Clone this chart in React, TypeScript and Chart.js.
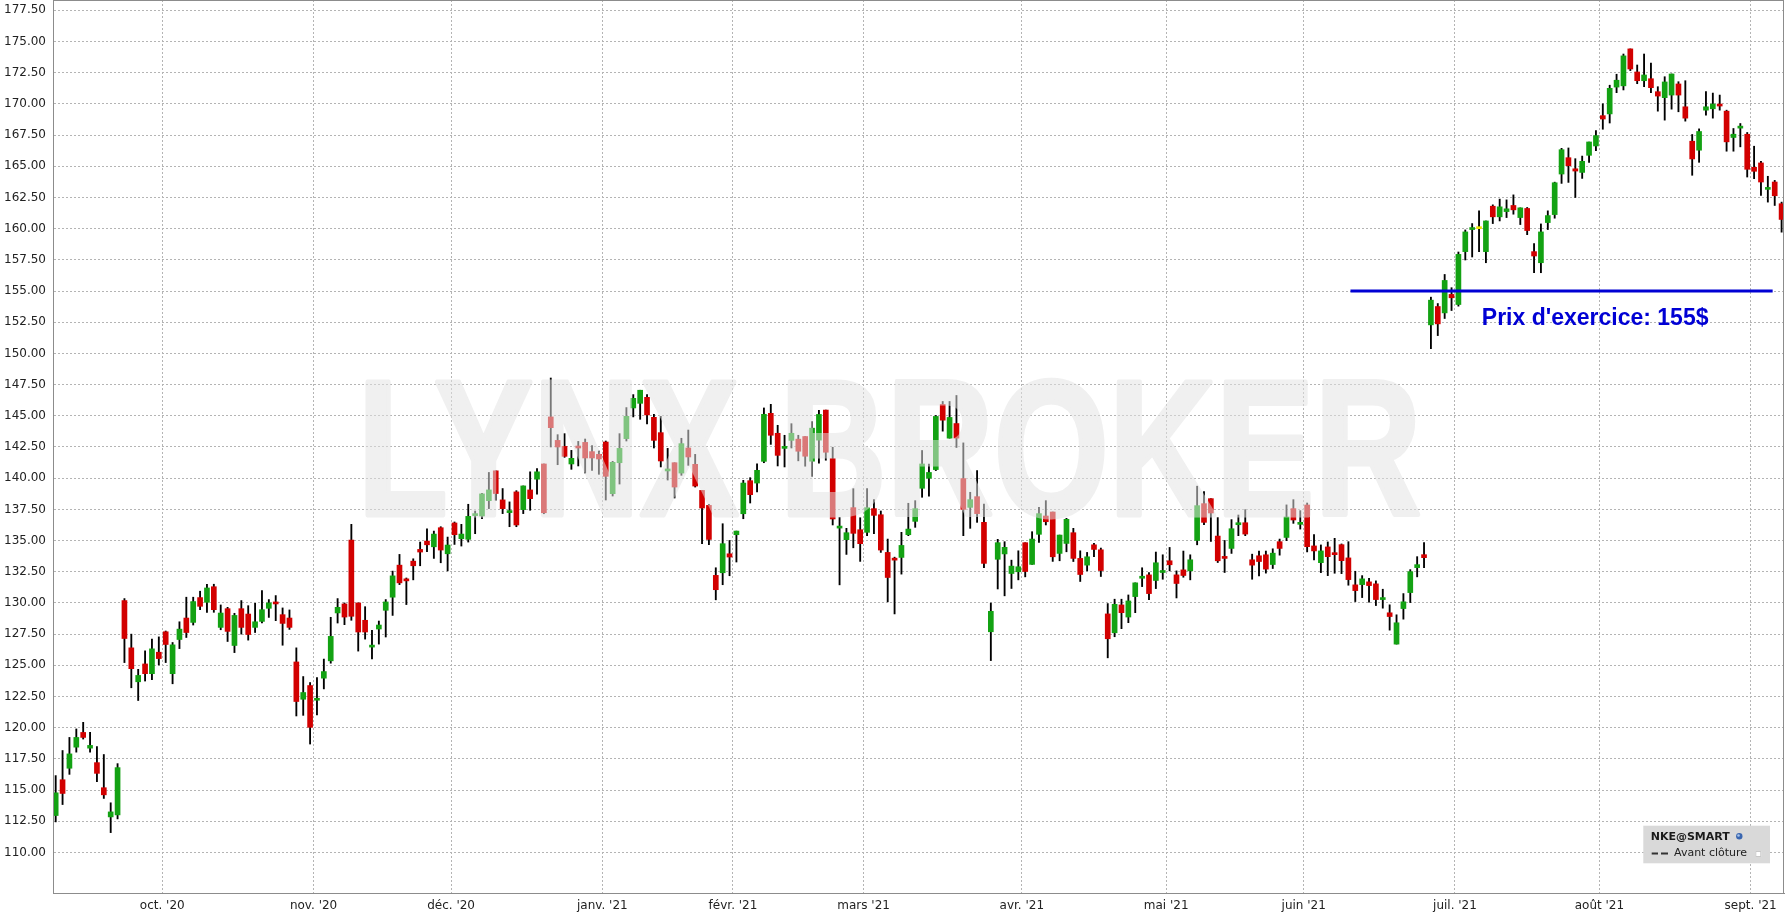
import React, { useEffect, useRef } from "react";
import { Chart, registerables } from "chart.js";

Chart.register(...registerables);

// ---- Data (NKE daily candles, Sep 2020 - Sep 2021) ----
const opens = [
  112.96, 115.83, 116.75, 118.44, 119.62, 118.36, 117.2, 115.19, 112.85, 113.01,
  130.19, 126.4, 123.68, 125.11, 124.33, 126.05, 127.69, 124.33, 127.07, 128.79,
  128.44, 130.43, 130.05, 131.3, 128.04, 129.54, 126.59, 129.54, 129.11, 128.04,
  128.52, 129.57, 130.03, 129.06, 128.79, 125.27, 122.28, 123.38, 122.2, 123.97,
  125.36, 129.2, 129.92, 135.04, 130.0, 128.61, 126.46, 127.91, 129.41, 130.46,
  133.03, 131.9, 133.35, 134.29, 134.96, 134.5, 136.03, 133.94, 136.41, 135.15,
  135.1, 137.0, 136.97, 138.2, 140.59, 138.26, 137.24, 138.9, 137.48, 139.06,
  139.92, 141.14, 144.91, 143.03, 142.55, 141.14, 142.58, 142.87, 142.13, 141.91,
  142.9, 138.76, 141.24, 143.17, 145.63, 146.0, 146.48, 144.88, 143.65, 140.58,
  141.24, 140.41, 142.42, 141.11, 139.02, 137.82, 132.21, 132.42, 133.94, 135.47,
  137.15, 139.8, 139.61, 141.35, 145.2, 143.6, 142.39, 143.03, 143.13, 143.34,
  141.36, 143.05, 145.46, 141.57, 136.0, 135.07, 137.64, 135.87, 135.66, 137.56,
  137.07, 134.05, 133.54, 133.65, 135.47, 136.54, 139.19, 140.0, 140.69, 145.91,
  143.21, 144.38, 139.97, 137.66, 138.52, 136.46, 127.69, 133.5, 133.93, 132.36,
  132.5, 134.83, 133.09, 135.5, 136.97, 137.29, 133.97, 134.77, 135.63, 133.57,
  133.03, 134.66, 134.26, 129.12, 127.61, 129.84, 128.87, 130.51, 131.98, 132.25,
  131.8, 132.44, 133.38, 132.25, 132.65, 132.57, 135.01, 137.96, 138.36, 135.36,
  133.73, 134.37, 136.27, 136.43, 133.46, 133.78, 133.86, 133.08, 134.91, 135.25,
  137.56, 136.3, 137.85, 134.57, 133.23, 134.49, 134.03, 134.67, 133.61, 131.45,
  131.47, 131.69, 131.53, 130.27, 129.21, 126.7, 129.55, 130.83, 132.83, 133.87,
  152.29, 153.76, 153.25, 154.73, 153.92, 158.16, 159.93, 160.0, 158.16, 161.8,
  160.95, 161.37, 161.86, 160.89, 161.62, 158.16, 157.27, 160.49, 161.13, 164.38,
  165.69, 164.8, 164.51, 165.88, 166.63, 169.06, 169.2, 171.35, 171.45, 174.41,
  172.56, 171.86, 172.02, 170.98, 170.5, 170.71, 171.6, 169.77, 167.01, 166.29,
  169.5, 169.61, 169.99, 169.42, 167.31, 168.06, 167.57, 164.92, 165.27, 163.15,
  163.74, 162.0,
];
const highs = [
  116.16, 118.17, 119.22, 119.9, 120.43, 119.62, 118.49, 117.85, 113.98, 117.12,
  130.35, 127.5, 124.68, 126.16, 127.1, 127.28, 127.75, 126.83, 128.49, 130.46,
  130.46, 130.94, 131.5, 131.5, 129.84, 129.65, 129.17, 130.19, 129.78, 129.97,
  131.0, 130.27, 130.59, 129.6, 129.44, 126.4, 124.1, 123.62, 124.02, 125.5,
  128.85, 130.35, 130.0, 136.3, 130.0, 129.7, 127.8, 128.55, 130.27, 132.55,
  133.89, 132.0, 133.54, 134.88, 135.95, 135.76, 136.11, 135.28, 136.49, 136.3,
  137.91, 137.37, 138.79, 140.46, 140.59, 139.17, 138.1, 139.0, 139.38, 140.51,
  140.78, 141.14, 148.03, 143.49, 143.57, 142.23, 142.95, 143.14, 142.61, 142.18,
  142.98, 141.35, 143.57, 145.66, 146.7, 147.05, 146.7, 145.12, 144.96, 142.39,
  141.24, 143.2, 143.86, 141.91, 139.02, 137.9, 132.82, 136.35, 135.01, 135.76,
  139.83, 140.04, 141.16, 145.63, 145.92, 144.24, 143.44, 144.37, 143.44, 143.34,
  144.54, 145.43, 145.46, 142.48, 136.86, 135.98, 139.16, 136.83, 139.16, 138.28,
  137.37, 135.12, 133.67, 135.66, 137.99, 138.2, 142.22, 141.14, 145.03, 146.15,
  146.15, 146.63, 142.83, 138.87, 140.61, 137.93, 129.99, 135.1, 134.91, 133.43,
  134.18, 134.83, 135.71, 137.66, 138.2, 137.29, 135.44, 136.78, 135.98, 134.18,
  134.05, 134.77, 134.4, 129.95, 130.3, 130.3, 130.64, 131.61, 132.82, 132.44,
  134.08, 133.86, 134.45, 132.57, 134.16, 133.86, 139.36, 138.93, 138.36, 136.84,
  135.01, 136.68, 137.05, 137.48, 133.91, 134.16, 134.16, 134.34, 135.12, 137.86,
  138.28, 137.4, 138.01, 135.47, 134.65, 134.89, 135.18, 134.73, 134.91, 132.54,
  132.19, 131.98, 131.77, 131.1, 129.85, 129.05, 130.75, 132.67, 133.71, 134.83,
  154.51, 154.0, 156.33, 155.27, 158.13, 159.9, 160.41, 161.43, 160.62, 161.91,
  162.37, 162.31, 162.71, 161.67, 161.7, 158.8, 160.38, 161.43, 163.73, 166.44,
  166.47, 165.61, 165.82, 166.95, 167.86, 170.01, 171.5, 172.38, 174.0, 174.41,
  173.12, 174.0, 173.28, 171.38, 172.18, 172.4, 171.78, 171.86, 167.55, 168.0,
  170.98, 170.87, 170.71, 169.5, 168.03, 168.43, 167.71, 166.61, 165.4, 164.2,
  163.87, 162.13,
];
const lows = [
  112.45, 113.84, 116.26, 118.04, 119.09, 118.04, 115.67, 114.33, 111.59, 112.69,
  125.22, 123.2, 122.18, 123.74, 123.84, 125.03, 125.22, 123.52, 126.34, 127.23,
  128.23, 129.46, 129.25, 129.25, 127.85, 126.91, 126.02, 127.5, 127.02, 127.63,
  128.39, 128.84, 128.58, 126.61, 127.88, 120.94, 120.99, 118.69, 121.02, 123.11,
  125.17, 128.39, 128.26, 128.61, 126.14, 127.1, 125.52, 126.7, 127.27, 129.0,
  131.47, 129.87, 131.85, 132.98, 134.1, 133.57, 133.22, 132.57, 134.69, 134.56,
  134.88, 135.55, 136.76, 137.56, 138.23, 137.16, 136.11, 136.11, 137.16, 137.43,
  138.71, 137.15, 142.5, 141.08, 141.67, 140.71, 140.98, 140.41, 140.63, 140.31,
  138.25, 138.57, 139.53, 142.98, 144.91, 144.72, 144.34, 142.42, 140.9, 139.85,
  138.41, 140.23, 141.03, 139.29, 134.75, 134.67, 130.25, 131.46, 132.18, 133.28,
  136.75, 138.01, 138.89, 141.24, 142.71, 140.98, 140.9, 142.42, 141.39, 140.96,
  140.15, 141.2, 141.44, 136.25, 131.45, 133.89, 134.42, 133.33, 135.39, 135.55,
  134.05, 130.09, 129.12, 132.31, 135.39, 136.06, 138.47, 138.55, 140.61, 143.77,
  143.21, 142.46, 135.39, 135.98, 136.46, 132.82, 125.38, 131.12, 130.57, 131.16,
  131.85, 132.09, 133.09, 134.85, 136.25, 133.33, 133.38, 134.1, 133.32, 131.72,
  132.57, 133.7, 132.12, 125.6, 127.29, 127.94, 128.42, 129.22, 131.31, 130.27,
  131.15, 131.9, 132.57, 130.4, 132.06, 131.85, 134.66, 136.27, 134.93, 133.24,
  132.44, 133.97, 135.39, 135.39, 131.9, 132.17, 132.39, 132.76, 133.83, 134.99,
  136.38, 135.92, 134.09, 133.45, 132.43, 132.19, 132.38, 132.35, 131.42, 130.11,
  130.43, 130.06, 129.79, 129.58, 127.82, 126.7, 128.7, 130.03, 132.09, 132.83,
  150.38, 151.43, 152.8, 153.44, 153.79, 157.49, 157.73, 158.16, 157.27, 160.41,
  160.62, 160.89, 161.16, 160.33, 159.52, 156.47, 156.47, 159.93, 160.84, 163.63,
  163.71, 162.5, 164.03, 165.32, 166.25, 167.97, 168.47, 170.9, 171.12, 172.67,
  171.62, 171.38, 170.9, 169.42, 168.7, 169.58, 169.37, 168.62, 164.28, 165.32,
  169.1, 168.86, 169.5, 166.21, 166.21, 166.56, 164.14, 164.01, 162.67, 162.13,
  161.86, 159.72,
];
const closes = [
  114.78, 114.73, 117.9, 119.22, 119.22, 118.58, 116.34, 114.62, 113.25, 116.8,
  127.15, 124.73, 124.19, 124.33, 126.32, 125.54, 126.67, 126.64, 127.9, 127.63,
  130.11, 129.73, 131.2, 129.46, 129.19, 127.72, 129.0, 128.04, 127.47, 128.49,
  129.46, 130.0, 129.92, 128.36, 128.04, 122.1, 122.82, 120.03, 122.33, 124.5,
  127.32, 129.65, 128.87, 128.93, 127.67, 127.67, 126.6, 128.23, 130.08, 132.17,
  131.61, 131.77, 132.98, 134.08, 134.66, 135.52, 134.24, 134.64, 135.47, 135.52,
  136.94, 137.13, 138.74, 139.06, 138.77, 137.56, 137.37, 136.25, 139.38, 138.36,
  140.51, 137.23, 144.05, 142.5, 141.75, 141.59, 142.42, 141.62, 141.62, 141.54,
  140.15, 141.27, 142.39, 144.96, 146.4, 147.05, 145.07, 143.03, 141.38, 140.71,
  139.29, 142.77, 141.7, 139.37, 137.61, 135.09, 131.06, 134.75, 133.68, 135.76,
  139.61, 138.68, 140.63, 145.12, 143.44, 141.83, 142.52, 143.6, 142.16, 141.76,
  144.01, 145.11, 142.08, 136.73, 136.08, 135.63, 135.58, 134.75, 137.64, 137.02,
  134.24, 132.04, 133.43, 134.61, 135.92, 137.56, 141.14, 140.46, 144.95, 144.65,
  144.87, 143.21, 137.5, 138.28, 137.16, 133.17, 129.33, 134.83, 134.46, 132.95,
  132.9, 132.52, 135.12, 137.16, 136.51, 133.7, 135.44, 136.7, 133.57, 132.28,
  133.7, 134.29, 132.6, 127.13, 129.89, 129.22, 130.16, 131.61, 132.12, 130.75,
  133.22, 132.57, 133.06, 131.56, 132.2, 133.46, 137.8, 136.46, 137.21, 133.38,
  133.57, 135.95, 136.43, 135.52, 133.03, 133.32, 132.71, 133.99, 134.37, 136.89,
  136.65, 136.41, 134.51, 134.17, 134.17, 133.71, 133.87, 133.39, 131.87, 130.99,
  131.93, 131.39, 130.27, 130.41, 128.91, 128.41, 130.09, 132.51, 133.07, 133.63,
  154.27, 152.37, 155.85, 154.46, 157.94, 159.74, 160.07, 160.0, 160.62, 160.95,
  161.75, 161.59, 161.51, 161.67, 159.85, 157.81, 159.74, 161.05, 163.68, 166.33,
  165.05, 164.62, 165.4, 166.95, 167.46, 168.79, 171.25, 171.9, 173.85, 172.8,
  171.86, 172.32, 171.3, 170.63, 171.76, 172.4, 170.71, 168.86, 165.59, 167.79,
  169.77, 169.99, 169.83, 166.96, 167.57, 168.22, 164.76, 164.6, 163.74, 163.31,
  162.64, 160.74,
];

const monthLabels = [
  "oct. '20", "nov. '20", "déc. '20", "janv. '21", "févr. '21", "mars '21",
  "avr. '21", "mai '21", "juin '21", "juil. '21", "août '21", "sept. '21",
];
const monthStartIndex = [16, 38, 58, 80, 99, 118, 141, 162, 182, 204, 225, 247];
const priceTicks = [
  110, 112.5, 115, 117.5, 120, 122.5, 125, 127.5, 130, 132.5, 135, 137.5, 140,
  142.5, 145, 147.5, 150, 152.5, 155, 157.5, 160, 162.5, 165, 167.5, 170, 172.5,
  175, 177.5,
];
const strikePrice = 155;
const strikeFrom = 188.3;
const strikeTo = 249.7;
const strikeLabel = "Prix d'exercice: 155$";
const strikeLabelX = 207.4;
const strikeLabelY = 152.75;
const legendTitle = "NKE@SMART";
const legendItem = "Avant clôture";
const watermarkText = "LYNX BROKER";

const UP = "#13a213";
const DOWN = "#d20000";
const FLAT = "#f2e400";
const STRIKE = "#0000d4";

const watermarkPlugin = {
  id: "watermark",
  afterDatasetsDraw(chart: any) {
    const { ctx, chartArea: a } = chart;
    const w = a.right - a.left;
    const h = a.bottom - a.top;
    const x0 = a.left + 0.1814 * w;
    const x1 = a.left + 0.7891 * w;
    const y0 = a.top + 0.4255 * h;
    const y1 = a.top + 0.5762 * h;
    const off = document.createElement("canvas");
    off.width = chart.width;
    off.height = chart.height;
    const o = off.getContext("2d") as CanvasRenderingContext2D;
    o.font = "bold 200px 'Liberation Sans', Arial, sans-serif";
    o.textAlign = "left";
    o.textBaseline = "alphabetic";
    const m = o.measureText(watermarkText);
    const inkW = m.actualBoundingBoxLeft + m.actualBoundingBoxRight;
    const inkH = m.actualBoundingBoxAscent;
    o.translate(x0, y1);
    o.scale((x1 - x0) / inkW, (y1 - y0) / inkH);
    o.fillStyle = "#e2e2e2";
    o.strokeStyle = "#e2e2e2";
    o.lineJoin = "round";
    o.lineWidth = 5;
    o.fillText(watermarkText, m.actualBoundingBoxLeft, 0);
    o.strokeText(watermarkText, m.actualBoundingBoxLeft, 0);
    ctx.save();
    ctx.beginPath();
    ctx.rect(a.left, a.top, w, h);
    ctx.clip();
    ctx.globalAlpha = 0.53;
    ctx.drawImage(off, 0, 0);
    ctx.restore();
  },
};

const overlayPlugin = {
  id: "overlay",
  afterDraw(chart: any) {
    const { ctx, chartArea: a, scales } = chart;
    ctx.save();
    // frame
    ctx.strokeStyle = "#8c8c8c";
    ctx.lineWidth = 1;
    ctx.strokeRect(a.left + 0.5, a.top + 0.5, a.right - a.left - 1, a.bottom - a.top);
    // strike label
    ctx.font = "bold 23px 'Liberation Sans', Arial, sans-serif";
    ctx.fillStyle = STRIKE;
    ctx.textAlign = "left";
    ctx.textBaseline = "middle";
    ctx.fillText(
      strikeLabel,
      scales.x.getPixelForValue(strikeLabelX),
      scales.y.getPixelForValue(strikeLabelY)
    );
    // legend box
    const bx = a.right - 140.7;
    const by = a.bottom - 67.3;
    ctx.fillStyle = "#d9d9d9";
    ctx.fillRect(bx, by, 126.7, 37.6);
    ctx.fillStyle = "#1a1a1a";
    ctx.font = "bold 11px 'DejaVu Sans', Verdana, sans-serif";
    ctx.fillText(legendTitle, bx + 7.4, by + 11);
    // globe icon
    ctx.beginPath();
    ctx.arc(bx + 96, by + 10.6, 3.2, 0, Math.PI * 2);
    ctx.fillStyle = "#3a66b0";
    ctx.fill();
    ctx.beginPath();
    ctx.arc(bx + 95.2, by + 9.8, 1.3, 0, Math.PI * 2);
    ctx.fillStyle = "#a9c4ea";
    ctx.fill();
    // dashed marker
    ctx.strokeStyle = "#333";
    ctx.lineWidth = 2;
    ctx.beginPath();
    ctx.moveTo(bx + 8.4, by + 27.8);
    ctx.lineTo(bx + 14.7, by + 27.8);
    ctx.moveTo(bx + 17.7, by + 27.8);
    ctx.lineTo(bx + 24.7, by + 27.8);
    ctx.stroke();
    ctx.fillStyle = "#222";
    ctx.font = "11px 'DejaVu Sans', Verdana, sans-serif";
    ctx.fillText(legendItem, bx + 30.7, by + 27.6);
    ctx.fillStyle = "#ffffff";
    ctx.fillRect(bx + 112, by + 25.3, 6, 6);
    ctx.strokeStyle = "#c8c8c8";
    ctx.lineWidth = 1;
    ctx.strokeRect(bx + 112.5, by + 25.8, 5, 5);
    ctx.restore();
  },
};

export default function App() {
  const canvasRef = useRef<HTMLCanvasElement | null>(null);

  useEffect(() => {
    document.body.style.margin = "0";
    document.body.style.overflow = "hidden";
    const canvas = canvasRef.current;
    if (!canvas) return;

    const colors = opens.map((o, i) =>
      closes[i] > o ? UP : closes[i] < o ? DOWN : FLAT
    );
    const bodies = opens.map((o, i) => ({
      x: i,
      y: [Math.min(o, closes[i]), Math.max(o, closes[i])],
    }));
    const wicks = lows.map((l, i) => ({ x: i, y: [l, highs[i]] }));

    const chart = new Chart(canvas, {
      type: "bar",
      data: {
        datasets: [
          {
            type: "line",
            data: [
              { x: strikeFrom, y: strikePrice },
              { x: strikeTo, y: strikePrice },
            ],
            borderColor: STRIKE,
            borderWidth: 3,
            pointRadius: 0,
            fill: false,
          } as any,
          {
            data: bodies as any,
            backgroundColor: colors,
            borderWidth: 0,
            barThickness: 5,
            minBarLength: 2,
            grouped: false,
          },
          {
            data: wicks as any,
            backgroundColor: "#000000",
            borderWidth: 0,
            barThickness: 1.2,
            grouped: false,
          },
        ],
      },
      options: {
        responsive: false,
        animation: false,
        events: [],
        layout: { padding: { top: 0, right: 6, left: 0, bottom: 0 } },
        plugins: {
          legend: { display: false },
          tooltip: { enabled: false },
        },
        scales: {
          x: {
            type: "linear",
            min: -0.39,
            max: 251.35,
            offset: false,
            grid: {
              offset: false,
              color: "#b4b4b4",
              lineWidth: 1,
              drawTicks: false,
            },
            border: { color: "#8c8c8c", width: 1, dash: [2, 2] },
            afterBuildTicks: (scale: any) => {
              scale.ticks = monthStartIndex.map((i) => ({ value: i - 0.5 }));
            },
            afterFit: (scale: any) => {
              scale.height = 27;
              scale.paddingLeft = 0;
              scale.paddingRight = 0;
            },
            ticks: {
              autoSkip: false,
              maxRotation: 0,
              padding: 6,
              color: "#222",
              font: { family: "'DejaVu Sans', Verdana, sans-serif", size: 12 },
              callback: (_v: any, index: number) => monthLabels[index],
            },
          },
          y: {
            type: "linear",
            min: 106.75,
            max: 178.33,
            grid: { color: "#b4b4b4", lineWidth: 1, drawTicks: false },
            border: { color: "#8c8c8c", width: 1, dash: [2, 2] },
            afterBuildTicks: (scale: any) => {
              scale.ticks = priceTicks.map((v) => ({ value: v }));
            },
            afterFit: (scale: any) => {
              scale.width = 53;
              scale.paddingTop = 0;
              scale.paddingBottom = 0;
            },
            ticks: {
              padding: 7,
              color: "#222",
              font: { family: "'DejaVu Sans', Verdana, sans-serif", size: 12 },
              callback: (v: any) => Number(v).toFixed(2),
            },
          },
        },
      },
      plugins: [watermarkPlugin, overlayPlugin],
    });

    return () => chart.destroy();
  }, []);

  return (
    <div style={{ position: "absolute", left: 0, top: 0, width: 1790, height: 920, background: "#fff" }}>
      <canvas ref={canvasRef} width={1790} height={920} style={{ width: 1790, height: 920, display: "block" }} />
    </div>
  );
}
